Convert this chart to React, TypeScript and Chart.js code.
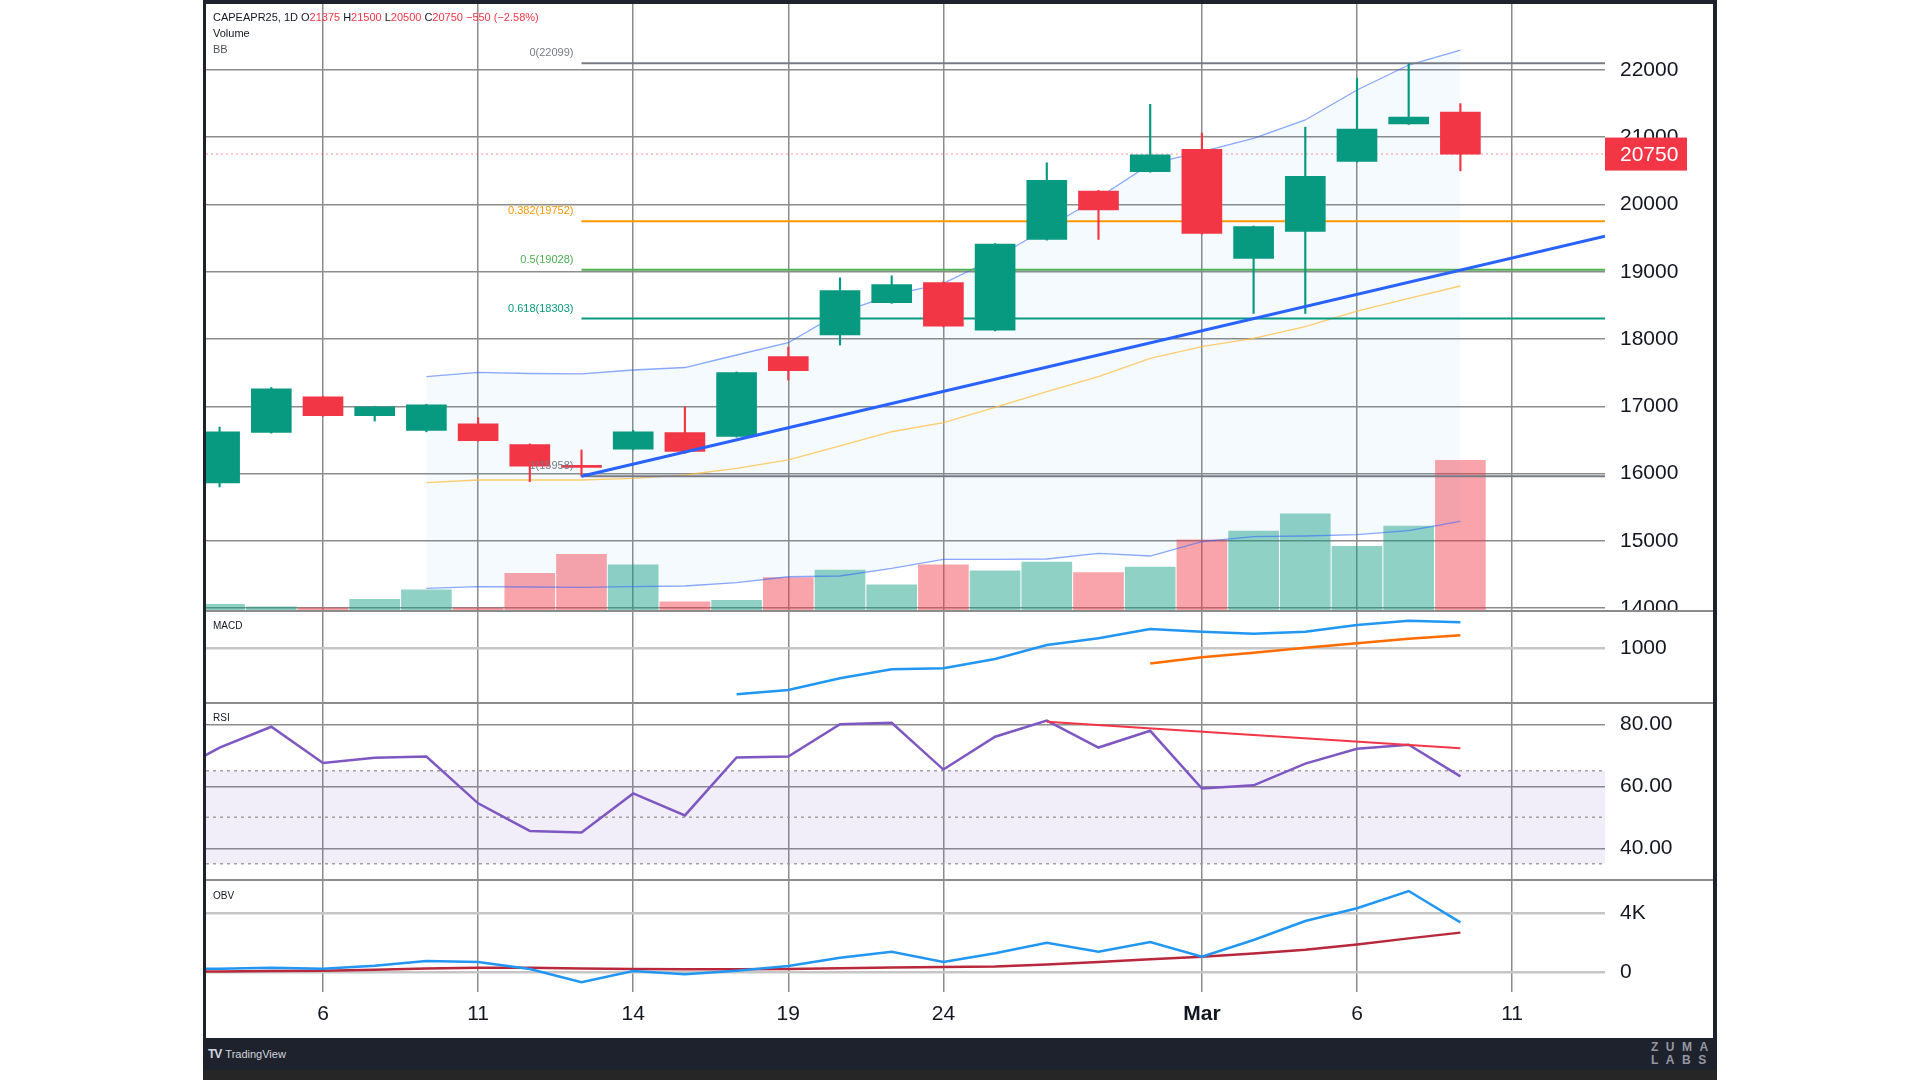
import React, { useEffect, useRef } from 'react';
import { Chart, registerables } from 'chart.js';

Chart.register(...registerables);

const FONT = "'Liberation Sans', Arial, Helvetica, sans-serif";

// ---------- data ----------
const dates = [
  'Feb 4', 'Feb 5', 'Feb 6', 'Feb 7', 'Feb 10', 'Feb 11', 'Feb 12', 'Feb 13', 'Feb 14', 'Feb 17',
  'Feb 18', 'Feb 19', 'Feb 20', 'Feb 21', 'Feb 24', 'Feb 25', 'Feb 26', 'Feb 27', 'Feb 28',
  'Mar 3', 'Mar 4', 'Mar 5', 'Mar 6', 'Mar 7', 'Mar 10',
];
const opens = [15860, 16610, 17140, 16860, 16640, 16740, 16430, 16120, 16360, 16610, 16550, 17740, 18060, 18540, 18840, 18130, 19480, 20200, 20490, 20820, 19200, 19600, 20640, 21200, 21375];
const highs = [16690, 17280, 17150, 17000, 17030, 16830, 16440, 16350, 16640, 16990, 17510, 17880, 18910, 18940, 18850, 19420, 20620, 20210, 21490, 21060, 19680, 21150, 21880, 22099, 21500];
const lows = [15800, 16600, 16850, 16780, 16620, 16480, 15880, 15958, 16350, 16300, 16540, 17390, 17910, 18530, 18180, 18120, 19470, 19480, 20480, 19560, 18380, 18380, 20630, 21190, 20500];
const closes = [16620, 17260, 16860, 16990, 17020, 16490, 16110, 16090, 16620, 16330, 17500, 17530, 18720, 18810, 18190, 19410, 20360, 19920, 20740, 19570, 19670, 20420, 21120, 21300, 20750];
const volumes = [95, 60, 45, 165, 300, 45, 535, 805, 655, 130, 150, 475, 580, 370, 655, 570, 695, 545, 625, 1010, 1135, 1380, 920, 1205, 2140];

const bbUpper = [null, null, null, null, 17439, 17505, 17487, 17480, 17539, 17576, 17762, 17945, 18391, 18654, 18828, 19200, 19650, 20100, 20600, 20785, 20984, 21257, 21703, 22074, 22297];
const bbBasis = [null, null, null, null, 15863, 15903, 15903, 15903, 15929, 15978, 16077, 16201, 16409, 16621, 16755, 16984, 17216, 17439, 17713, 17886, 18010, 18183, 18416, 18605, 18788];
const bbLower = [null, null, null, null, 14293, 14317, 14312, 14308, 14317, 14327, 14376, 14465, 14476, 14590, 14724, 14724, 14729, 14813, 14773, 14986, 15060, 15071, 15090, 15150, 15289];

const macdLine = [null, null, null, null, null, null, null, null, null, null, 537, 580, 697, 787, 797, 890, 1030, 1097, 1190, 1163, 1143, 1163, 1230, 1273, 1257];
const macdSignal = [null, null, null, null, null, null, null, null, null, null, null, null, null, null, null, null, null, null, 845, 907, 953, 1003, 1047, 1093, 1127];

const rsiBefore = 63.3; // Feb 3 (off the left edge)
const rsiValues = [72.5, 79.2, 67.5, 69.2, 69.6, 54.5, 45.6, 45.1, 57.7, 50.6, 69.3, 69.6, 80.0, 80.5, 65.4, 76.0, 81.2, 72.5, 77.9, 59.3, 60.3, 67.3, 72.1, 73.4, 63.2];
const rsiTrend = [{ i: 16, v: 80.8 }, { i: 24, v: 72.3 }];
const rsiBands = [65, 50, 35];

const obvBefore = 200;
const obvValues = [246, 315, 246, 450, 766, 698, 224, -678, 88, -136, 108, 427, 990, 1397, 698, 1288, 2007, 1397, 2054, 1058, 2190, 3478, 4339, 5512, 3383];
const obvMaBefore = 40;
const obvMa = [50, 80, 110, 180, 250, 300, 300, 250, 220, 200, 200, 220, 280, 330, 360, 390, 530, 700, 880, 1060, 1270, 1530, 1880, 2300, 2690];

const fibRatios = ['0', '0.382', '0.5', '0.618', '1'];
const fibLevels = [22099, 19752, 19028, 18303, 15958];
const fibColors = ['#787b86', '#ff9800', '#4caf50', '#089981', '#787b86'];
const fibStartIndex = 7;
const trendStart = { i: 7, v: 15958 };
const trendEndValue = 19530;

const priceTicks = [14000, 15000, 16000, 17000, 18000, 19000, 20000, 21000, 22000];
const macdTicks = [1000];
const rsiTicks = [40, 60, 80];
const obvTicks = [0, 4000];
const obvTickLabels = ['0', '4K'];
const timeTickIndex = [2, 5, 8, 11, 14, 19, 22, 25];
const timeTickLabels = ['6', '11', '14', '19', '24', 'Mar', '6', '11'];

// ---------- styling ----------
const X_MIN = -0.263;
const X_MAX = 26.797;
const UP = '#089981';
const DOWN = '#f23645';
const GRID = '#8c8c8c';
const LIGHT_GRID = '#c6c6c6';
const TEXT = '#131722';

const xScale = (labels: boolean) => ({
  type: 'linear',
  min: X_MIN,
  max: X_MAX,
  offset: false,
  position: 'bottom',
  grid: { color: GRID, lineWidth: 1.5, drawTicks: false, offset: false },
  border: { display: false },
  ticks: labels
    ? {
        color: TEXT,
        padding: 10,
        autoSkip: false,
        maxRotation: 0,
        font: (c: any) => ({ family: FONT, size: 21, weight: c.tick && c.tick.label === 'Mar' ? 'bold' : 'normal' }),
        callback: (v: number) => {
          const k = timeTickIndex.indexOf(v);
          return k >= 0 ? timeTickLabels[k] : '';
        },
      }
    : { display: false },
  afterBuildTicks: (s: any) => {
    s.ticks = timeTickIndex.map((v) => ({ value: v }));
  },
  afterFit: (s: any) => {
    s.height = labels ? 46 : 0;
    s.paddingLeft = 0;
    s.paddingRight = 0;
  },
});

const yScale = (min: number, max: number, ticks: number[], fmt: (v: number) => string, gridColor: string, gridWidth: number) => ({
  type: 'linear',
  position: 'right',
  min,
  max,
  grid: { color: gridColor, lineWidth: gridWidth, drawTicks: false },
  border: { display: false },
  ticks: { color: TEXT, padding: 15, font: { family: FONT, size: 21 }, callback: (v: number) => fmt(v) },
  afterBuildTicks: (s: any) => {
    s.ticks = ticks.map((v) => ({ value: v }));
  },
  afterFit: (s: any) => {
    s.width = 108;
    s.paddingTop = 0;
    s.paddingBottom = 0;
  },
});

const baseOptions = (scales: any) => ({
  responsive: false,
  animation: false,
  events: [],
  layout: { padding: 0 },
  plugins: { legend: { display: false }, tooltip: { enabled: false } },
  elements: { point: { radius: 0 }, line: { tension: 0 } },
  scales,
});

const series = (arr: (number | null)[]) =>
  arr.map((v, i) => (v === null ? null : { x: i, y: v })).filter((p) => p !== null);

const hLine = (v: number) => [
  { x: X_MIN, y: v },
  { x: X_MAX, y: v },
];

const overlayPlugin = {
  id: 'overlay',
  afterDatasetsDraw(chart: any) {
    const { ctx, scales } = chart;
    const x = scales.x;
    const y = scales.y;
    ctx.save();
    ctx.font = `11px ${FONT}`;
    ctx.textAlign = 'right';
    ctx.textBaseline = 'middle';
    fibLevels.forEach((lv, k) => {
      ctx.fillStyle = fibColors[k];
      ctx.fillText(`${fibRatios[k]}(${lv})`, x.getPixelForValue(fibStartIndex) - 8, y.getPixelForValue(lv) - 10);
    });
    ctx.restore();
  },
  afterDraw(chart: any) {
    const { ctx, chartArea, scales } = chart;
    const last = closes[closes.length - 1];
    const py = scales.y.getPixelForValue(last);
    ctx.save();
    ctx.fillStyle = DOWN;
    ctx.fillRect(chartArea.right, py - 16.5, 82, 33);
    ctx.fillStyle = '#ffffff';
    ctx.font = `21px ${FONT}`;
    ctx.textAlign = 'left';
    ctx.textBaseline = 'middle';
    ctx.fillText(String(last), chartArea.right + 15, py + 1);
    ctx.restore();
  },
};

export default function App() {
  const priceRef = useRef<HTMLCanvasElement>(null);
  const macdRef = useRef<HTMLCanvasElement>(null);
  const rsiRef = useRef<HTMLCanvasElement>(null);
  const obvRef = useRef<HTMLCanvasElement>(null);

  useEffect(() => {
    const charts: Chart[] = [];
    const candleColors = closes.map((c, i) => (c >= opens[i] ? UP : DOWN));
    const volColors = closes.map((c, i) => (c >= opens[i] ? 'rgba(8,153,129,0.45)' : 'rgba(242,54,69,0.45)'));
    const last = closes[closes.length - 1];

    // ---- price pane ----
    charts.push(
      new Chart(priceRef.current as HTMLCanvasElement, {
        type: 'bar',
        data: {
          datasets: [
            {
              type: 'line', label: 'BB upper', data: series(bbUpper), borderColor: 'rgba(41,98,255,0.55)', borderWidth: 1.3,
              fill: 2, backgroundColor: 'rgba(33,150,243,0.05)', order: 20, yAxisID: 'y',
            },
            { type: 'line', label: 'BB basis', data: series(bbBasis), borderColor: 'rgba(255,190,60,0.75)', borderWidth: 1.3, fill: false, order: 19, yAxisID: 'y' },
            { type: 'line', label: 'BB lower', data: series(bbLower), borderColor: 'rgba(41,98,255,0.55)', borderWidth: 1.3, fill: false, order: 6, yAxisID: 'y' },
            {
              type: 'bar', label: 'Volume', data: volumes.map((v, i) => ({ x: i, y: v })), backgroundColor: volColors,
              barThickness: 50, grouped: false, borderWidth: 0, order: 12, yAxisID: 'yv',
            },
            ...fibLevels.map((lv, k) => ({
              type: 'line', label: `fib ${fibRatios[k]}`, data: [{ x: fibStartIndex, y: lv }, { x: X_MAX, y: lv }],
              borderColor: fibColors[k], borderWidth: 2, fill: false, order: 10, yAxisID: 'y',
            })),
            {
              type: 'line', label: 'last', data: hLine(last), borderColor: 'rgba(242,54,69,0.55)', borderWidth: 1,
              borderDash: [2, 3], fill: false, order: 9, yAxisID: 'y',
            },
            {
              type: 'bar', label: 'wick', data: lows.map((l, i) => ({ x: i, y: [l, highs[i]] })), backgroundColor: candleColors,
              barThickness: 1.5, grouped: false, borderWidth: 0, order: 5, yAxisID: 'y',
            },
            {
              type: 'bar', label: 'body', data: opens.map((o, i) => ({ x: i, y: [o, closes[i]] })), backgroundColor: candleColors,
              barThickness: 40, grouped: false, borderWidth: 0, order: 4, yAxisID: 'y',
            },
            {
              type: 'line', label: 'trend', data: [{ x: trendStart.i, y: trendStart.v }, { x: X_MAX, y: trendEndValue }],
              borderColor: '#2962ff', borderWidth: 3, fill: false, order: 3, yAxisID: 'y',
            },
          ] as any,
        },
        options: baseOptions({
          x: xScale(false),
          y: yScale(13955.4, 22981.4, priceTicks, (v) => String(v), GRID, 1.5),
          yv: { type: 'linear', display: false, min: 0, max: 8620 },
        }) as any,
        plugins: [overlayPlugin],
      })
    );

    // ---- MACD pane ----
    charts.push(
      new Chart(macdRef.current as HTMLCanvasElement, {
        type: 'line',
        data: {
          datasets: [
            { label: 'MACD', data: series(macdLine), borderColor: '#2196f3', borderWidth: 2.5, fill: false },
            { label: 'Signal', data: series(macdSignal), borderColor: '#ff6d00', borderWidth: 2.5, fill: false },
          ] as any,
        },
        options: baseOptions({
          x: xScale(false),
          y: yScale(450, 1370, macdTicks, (v) => String(v), LIGHT_GRID, 2.5),
        }) as any,
      })
    );

    // ---- RSI pane ----
    charts.push(
      new Chart(rsiRef.current as HTMLCanvasElement, {
        type: 'line',
        data: {
          datasets: [
            {
              label: 'RSI', data: [{ x: -1, y: rsiBefore }, ...rsiValues.map((v, i) => ({ x: i, y: v }))],
              borderColor: '#7e57c2', borderWidth: 2.5, fill: false, order: 1,
            },
            {
              label: 'RSI trend', data: rsiTrend.map((p) => ({ x: p.i, y: p.v })),
              borderColor: '#f23645', borderWidth: 2, fill: false, order: 0,
            },
            {
              label: 'upper band', data: hLine(rsiBands[0]), borderColor: '#a0a0a0', borderWidth: 1.5, borderDash: [3, 4],
              fill: 4, backgroundColor: 'rgba(126,87,194,0.1)', order: 5,
            },
            { label: 'middle band', data: hLine(rsiBands[1]), borderColor: '#a0a0a0', borderWidth: 1.5, borderDash: [3, 4], fill: false, order: 4 },
            { label: 'lower band', data: hLine(rsiBands[2]), borderColor: '#a0a0a0', borderWidth: 1.5, borderDash: [3, 4], fill: false, order: 4 },
          ] as any,
        },
        options: baseOptions({
          x: xScale(false),
          y: yScale(29.77, 86.87, rsiTicks, (v) => v.toFixed(2), GRID, 1.5),
        }) as any,
      })
    );

    // ---- OBV pane ----
    charts.push(
      new Chart(obvRef.current as HTMLCanvasElement, {
        type: 'line',
        data: {
          datasets: [
            {
              label: 'OBV', data: [{ x: -1, y: obvBefore }, ...obvValues.map((v, i) => ({ x: i, y: v }))],
              borderColor: '#2196f3', borderWidth: 2.5, fill: false, order: 0,
            },
            {
              label: 'OBV MA', data: [{ x: -1, y: obvMaBefore }, ...obvMa.map((v, i) => ({ x: i, y: v }))],
              borderColor: '#b8283a', borderWidth: 2.5, fill: false, order: 1,
            },
          ] as any,
        },
        options: baseOptions({
          x: xScale(true),
          y: yScale(-1336, 6258, obvTicks, (v) => obvTickLabels[obvTicks.indexOf(v)] ?? '', LIGHT_GRID, 2.5),
        }) as any,
      })
    );

    return () => charts.forEach((c) => c.destroy());
  }, []);

  const canvasStyle = (top: number, h: number): React.CSSProperties => ({
    position: 'absolute', left: 206, top, width: 1507, height: h, display: 'block',
  });
  const sep = (y: number): React.CSSProperties => ({
    position: 'absolute', left: 206, top: y - 1, width: 1507, height: 2, background: '#8c8c8c',
  });
  const small: React.CSSProperties = { position: 'absolute', left: 213, fontFamily: FONT, fontSize: 11, color: TEXT, whiteSpace: 'nowrap', lineHeight: '13px' };
  const red: React.CSSProperties = { color: DOWN };
  const gap: React.CSSProperties = { marginLeft: 3 };

  return (
    <div style={{ position: 'fixed', left: 0, top: 0, width: 1920, height: 1080, background: '#ffffff', overflow: 'hidden' }}>
      <div style={{ position: 'absolute', left: 203, top: 0, width: 1514, height: 1080, background: '#1e222d' }} />
      <div style={{ position: 'absolute', left: 203, top: 1070, width: 1514, height: 10, background: '#262626' }} />
      <div style={{ position: 'absolute', left: 206, top: 4, width: 1507, height: 1034, background: '#ffffff' }} />

      <canvas ref={priceRef} width={1507} height={607} style={canvasStyle(4, 607)} />
      <canvas ref={macdRef} width={1507} height={92} style={canvasStyle(611, 92)} />
      <canvas ref={rsiRef} width={1507} height={177} style={canvasStyle(703, 177)} />
      <canvas ref={obvRef} width={1507} height={158} style={canvasStyle(880, 158)} />

      <div style={sep(611)} />
      <div style={sep(703)} />
      <div style={sep(880)} />

      <div style={{ ...small, top: 11 }}>
        CAPEAPR25, 1D<span style={gap}>O</span><span style={red}>21375</span>
        <span style={gap}>H</span><span style={red}>21500</span>
        <span style={gap}>L</span><span style={red}>20500</span>
        <span style={gap}>C</span><span style={red}>20750</span>
        <span style={{ ...red, ...gap }}>−550 (−2.58%)</span>
      </div>
      <div style={{ ...small, top: 27 }}>Volume</div>
      <div style={{ ...small, top: 43, color: '#50535e' }}>BB</div>
      <div style={{ ...small, top: 619, fontSize: 10 }}>MACD</div>
      <div style={{ ...small, top: 711, fontSize: 10 }}>RSI</div>
      <div style={{ ...small, top: 889, fontSize: 10 }}>OBV</div>

      <div style={{ position: 'absolute', left: 208, top: 1047, fontFamily: FONT, fontSize: 12, color: '#d1d4dc', whiteSpace: 'nowrap' }}>
        <span style={{ fontWeight: 900, letterSpacing: -1 }}>TV</span>
        <span style={{ marginLeft: 4, fontSize: 11 }}>TradingView</span>
      </div>
      <div style={{ position: 'absolute', left: 1651, top: 1041, width: 70, fontFamily: FONT, fontSize: 12, fontWeight: 'bold', color: '#9598a1', letterSpacing: 7.5, lineHeight: '13px', whiteSpace: 'nowrap' }}>
        <div>ZUMA</div>
        <div>LABS</div>
      </div>
    </div>
  );
}
